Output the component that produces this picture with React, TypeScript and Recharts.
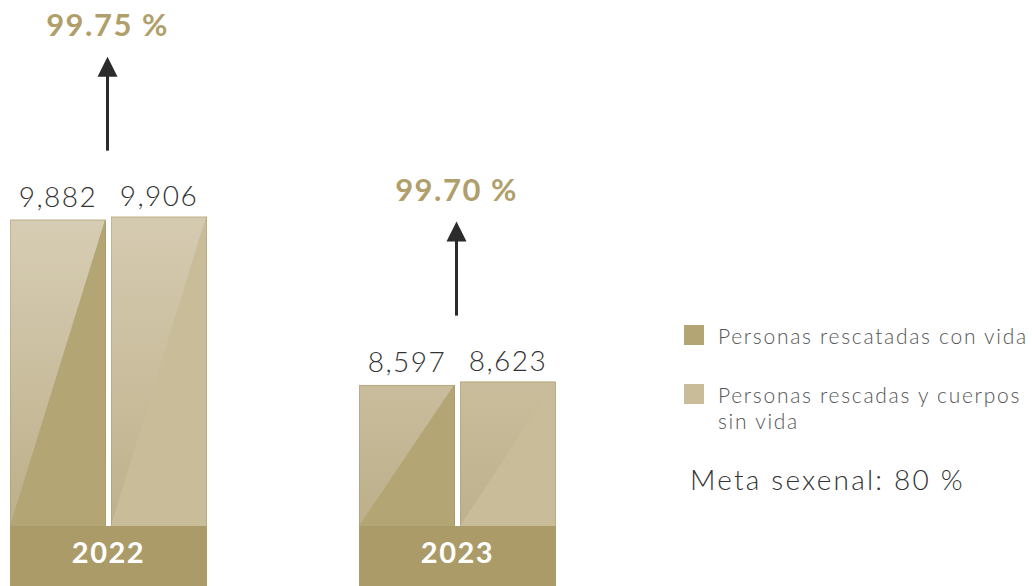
import { Bar, BarChart, LabelList, Legend, XAxis, YAxis } from 'recharts'

const years = ['2022', '2023']
const rescatadasConVida = [9882, 8597]
const rescatadasYCuerpos = [9906, 8623]
const porcentajes = ['99.75 %', '99.70 %']
const seriesNames = ['Personas rescatadas con vida', 'Personas rescadas y cuerpos sin vida']
const metaLabel = 'Meta sexenal: 80 %'

const data = years.map((year, i) => ({
  year,
  vivos: rescatadasConVida[i],
  total: rescatadasYCuerpos[i],
  pct: porcentajes[i],
}))

const FONT = 'Lato, "Open Sans", sans-serif'
const GOLD_DARK = '#b3a574'
const GOLD_LIGHT = '#c9bc99'
const BAND = '#ab9b68'
const BAR = 96
const GAP = 5

// bar with a lighter "glass" triangle over the upper-left half
function GlassBar(props: any) {
  const { x, y, width, height, fill, background, index, dataKey } = props
  if (!width || !height) return null
  const gid = `glass-${dataKey}-${index}`
  const top = background ? background.y : y
  const bottom = background ? background.y + background.height : y + height
  return (
    <g>
      <defs>
        <linearGradient id={gid} gradientUnits="userSpaceOnUse" x1="0" y1={top} x2="0" y2={bottom}>
          <stop offset="0.32" stopColor="#d7cdb4" />
          <stop offset="1" stopColor="#bcaf89" />
        </linearGradient>
      </defs>
      <rect x={x} y={y} width={width} height={height} fill={fill} />
      <polygon
        points={`${x},${y} ${x + width - 1},${y} ${x},${y + height}`}
        fill={`url(#${gid})`}
        opacity={dataKey === 'total' ? 0.85 : 1}
      />
      <rect
        x={x + 0.5}
        y={y + 0.5}
        width={width - 1}
        height={height}
        fill="none"
        stroke="rgba(160,140,90,0.35)"
      />
    </g>
  )
}

function YearTick(props: any) {
  const { x, y, payload } = props
  const w = BAR * 2 + GAP
  return (
    <g>
      <rect x={x - w / 2} y={y} width={w} height={62} fill={BAND} />
      <text
        x={x}
        y={y + 25}
        textAnchor="middle"
        dominantBaseline="central"
        fill="#ffffff"
        fontFamily={FONT}
        fontWeight={700}
        fontSize={29}
        letterSpacing={1.5}
      >
        {payload.value}
      </text>
    </g>
  )
}

function ArrowLabel(props: any) {
  const vb = props.viewBox ?? props
  const x = vb.x ?? props.x
  const y = vb.y ?? props.y
  const index = props.index ?? 0
  const cx = x - GAP / 2 - 1
  const tip = y - 160
  const base = y - 66
  return (
    <g>
      <line x1={cx} y1={base} x2={cx} y2={tip + 16} stroke="#2b2b2b" strokeWidth={3} />
      <polygon points={`${cx},${tip} ${cx - 10},${tip + 20} ${cx + 10},${tip + 20}`} fill="#2b2b2b" />
      <text
        x={cx}
        y={y - 193}
        textAnchor="middle"
        dominantBaseline="central"
        fill="#b09f6b"
        fontFamily={FONT}
        fontWeight={700}
        fontSize={31}
        letterSpacing={1.5}
      >
        {porcentajes[index]}
      </text>
    </g>
  )
}

function LegendBox(props: any) {
  const items = [...(props.payload ?? [])].sort(
    (a: any, b: any) => seriesNames.indexOf(a.value) - seriesNames.indexOf(b.value),
  )
  return (
    <div style={{ fontFamily: FONT, color: '#555' }}>
      {items.map((it: any, i: number) => (
        <div key={i} style={{ display: 'flex', alignItems: 'flex-start', marginBottom: 33 }}>
          <span
            style={{
              width: 20,
              height: 20,
              background: it.color,
              flex: 'none',
              marginRight: 14,
              marginTop: 2,
            }}
          />
          <span
            style={{
              fontSize: 21,
              fontWeight: 300,
              lineHeight: '26px',
              letterSpacing: 1.7,
              width: 314,
            }}
          >
            {it.value}
          </span>
        </div>
      ))}
      <div
        style={{
          fontSize: 28,
          fontWeight: 300,
          color: '#333',
          marginLeft: 6,
          marginTop: -5,
          letterSpacing: 2.2,
        }}
      >
        {metaLabel}
      </div>
    </div>
  )
}

const fmt = (v: any) => Number(v).toLocaleString('en-US')

export default function App() {
  return (
    <div style={{ width: 1032, height: 586, overflow: 'hidden', position: 'relative' }}>
      <style>{'body{margin:0}'}</style>
      <BarChart
        width={1032}
        height={586}
        data={data}
        margin={{ top: 76, right: 400, bottom: 0, left: -66 }}
        barGap={GAP}
        barCategoryGap={76}
      >
        <XAxis
          dataKey="year"
          height={60}
          axisLine={false}
          tickLine={false}
          tickSize={0}
          tickMargin={0}
          tick={<YearTick />}
          interval={0}
        />
        <YAxis hide domain={[7500, 11000]} />
        <Legend
          layout="horizontal"
          verticalAlign="middle"
          align="center"
          content={<LegendBox />}
          wrapperStyle={{ left: 684, top: 323, width: 348 }}
        />
        <Bar
          dataKey="vivos"
          name={seriesNames[0]}
          fill={GOLD_DARK}
          barSize={BAR}
          shape={<GlassBar />}
          isAnimationActive={false}
        >
          <LabelList
            dataKey="vivos"
            position="top"
            offset={13}
            formatter={fmt}
            fill="#333"
            fontFamily={FONT}
            fontWeight={300}
            fontSize={28}
            letterSpacing={1.5}
          />
        </Bar>
        <Bar
          dataKey="total"
          name={seriesNames[1]}
          fill={GOLD_LIGHT}
          barSize={BAR}
          shape={<GlassBar />}
          isAnimationActive={false}
        >
          <LabelList
            dataKey="total"
            position="top"
            offset={11}
            formatter={fmt}
            fill="#333"
            fontFamily={FONT}
            fontWeight={300}
            fontSize={28}
            letterSpacing={1.5}
          />
          <LabelList dataKey="pct" content={<ArrowLabel />} />
        </Bar>
      </BarChart>
    </div>
  )
}
